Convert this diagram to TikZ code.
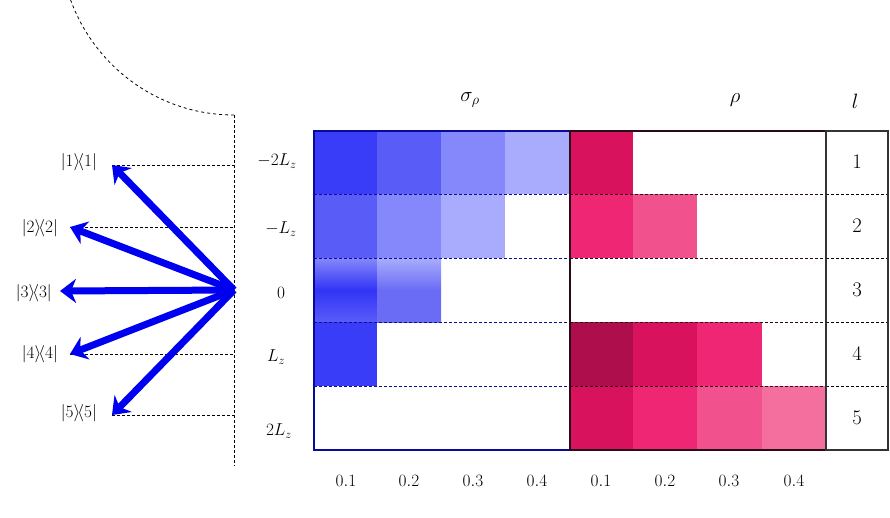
\documentclass[tikz,border=0pt]{standalone}
\usetikzlibrary{arrows.meta}
\definecolor{bA}{HTML}{3A3DF8}\definecolor{bB}{HTML}{5A5CF8}\definecolor{bC}{HTML}{8488FA}\definecolor{bD}{HTML}{A9ACFC}
\definecolor{bE}{HTML}{3234F6}\definecolor{bF}{HTML}{6A6CF5}
\definecolor{rA}{HTML}{D9125E}\definecolor{rB}{HTML}{EE2674}\definecolor{rC}{HTML}{F1528E}\definecolor{rD}{HTML}{F46F9E}\definecolor{rE}{HTML}{AE0E4C}
\definecolor{navy}{HTML}{0A0A9A}\definecolor{maroon}{HTML}{2A0A18}\definecolor{arrowblue}{HTML}{0000F0}
\tikzset{vec/.style={draw=arrowblue,line width=7pt,-{Stealth[length=16pt,width=24pt,inset=5pt]}},
 guide/.style={densely dashed,line width=0.6pt},
 lbl/.style={font=\fontsize{17}{20}\selectfont,inner sep=0pt},
 big/.style={font=\fontsize{22}{26}\selectfont,inner sep=0pt}}
\begin{document}
\begin{tikzpicture}[x=1pt,y=-1pt]
\useasboundingbox (0,0) rectangle (890,517);
% left
\draw[densely dashed,line width=0.5pt] (234,115) -- (234,466);
\draw[dashed,line width=0.8pt] (234,115) arc[start angle=90,end angle=270,x radius=174,y radius=175.5];
\coordinate (o) at (234,290);
\coordinate (t1) at (112,165);\coordinate (t2) at (70,227);\coordinate (t3) at (60,291);\coordinate (t4) at (70,354);\coordinate (t5) at (112,415);
\foreach \i in {1,2,4,5}{\draw[guide] (t\i) -- (t\i -| o);}
\foreach \i in {1,...,5}{\draw[vec] (o) -- (t\i);}
\node[lbl,anchor=east] (k1) at (97,162) {$|1\rangle\!\langle1|$};
\node[lbl,anchor=east] (k2) at (58,228) {$|2\rangle\!\langle2|$};
\node[lbl,anchor=east] (k3) at (52,293) {$|3\rangle\!\langle3|$};
\node[lbl,anchor=east] (k4) at (58,354) {$|4\rangle\!\langle4|$};
\node[lbl,anchor=east] (k5) at (97,413) {$|5\rangle\!\langle5|$};
\node[lbl] (y1) at (277,161) {$-2L_z$};
\node[lbl] (y2) at (281,229) {$-L_z$};
\node[lbl] (y3) at (281,293) {$0$};
\node[lbl] (y4) at (276,357) {$L_z$};
\node[lbl] (y5) at (279,431) {$2L_z$};
% cells blue
\fill[bA] (314,131) rectangle (377,194);\fill[bB] (377,131) rectangle (441,194);\fill[bC] (441,131) rectangle (505,194);\fill[bD] (505,131) rectangle (570,194);
\fill[bB] (314,194) rectangle (377,258);\fill[bC] (377,194) rectangle (441,258);\fill[bD] (441,194) rectangle (505,258);
\shade[top color=bC,bottom color=bB,middle color=bE] (314,258) rectangle (377,322);
\shade[top color=bD,bottom color=bF,middle color=bF] (377,258) rectangle (441,322);
\fill[bA] (314,322) rectangle (377,386);
% red
\fill[rA] (570,131) rectangle (633,194);
\fill[rB] (570,194) rectangle (633,258);\fill[rC] (633,194) rectangle (697,258);
\fill[rE] (570,322) rectangle (633,386);\fill[rA] (633,322) rectangle (697,386);\fill[rB] (697,322) rectangle (762,386);
\fill[rA] (570,386) rectangle (633,450);\fill[rB] (633,386) rectangle (697,450);\fill[rC] (697,386) rectangle (762,450);\fill[rD] (762,386) rectangle (826,450);
% dashed row lines
\foreach \y in {194,258,322,386}{
 \draw[densely dashed,navy,line width=1pt] (314,\y) -- (570,\y);
 \draw[densely dashed,maroon,line width=1pt] (570,\y) -- (826,\y);
 \draw[densely dashed,black,line width=1pt] (826,\y) -- (888,\y);}
\draw[navy,line width=1.5pt] (314,131) rectangle (570,450);
\draw[maroon,line width=1.5pt] (570,131) rectangle (826,450);
\draw[black!80,line width=1.5pt] (826,131) rectangle (888,450);
% numbers
\foreach \i/\y in {1/162,2/226,3/290,4/354,5/418}{\node[big] (n\i) at (857,\y) {$\i$};}
\foreach \v/\x in {0.1/346,0.2/409,0.3/473,0.4/537}{\node[big,font=\fontsize{19}{22}\selectfont] at (\x,481) {$\v$};}
\foreach \v/\x in {0.1/601,0.2/665,0.3/729,0.4/794}{\node[big,font=\fontsize{19}{22}\selectfont] at (\x,481) {$\v$};}
\node[big] (s) at (470,100) {$\sigma_\rho$};
\node[big] (r) at (735,100) {$\rho$};
\node[big] (l) at (855,101) {$l$};
\end{tikzpicture}
\end{document}
